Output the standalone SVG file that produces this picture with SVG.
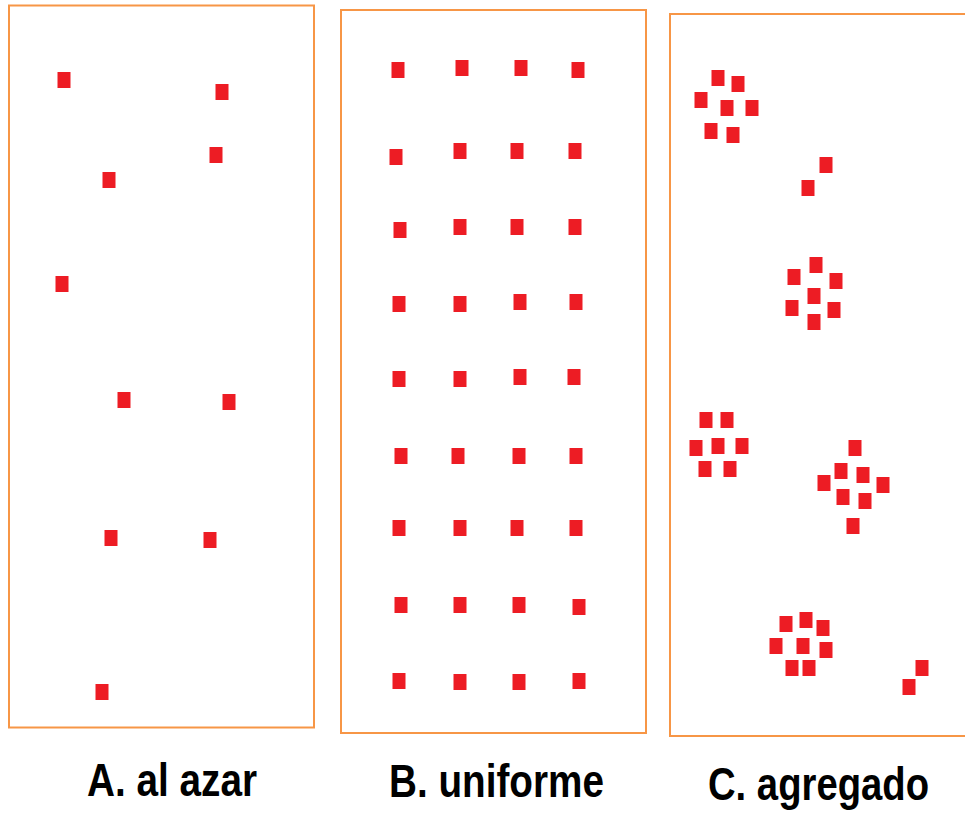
<svg xmlns="http://www.w3.org/2000/svg" width="965" height="818" viewBox="0 0 965 818">
<defs>
<style>
.panel{fill:#fff;stroke:#F79646;stroke-width:2}
.sq{fill:#ED1C24}
.lbl{font-family:"Liberation Sans",Arial,sans-serif;font-weight:bold;font-size:46px;fill:#000}
</style>
<rect id="s" class="sq" x="-6.5" y="-8" width="13" height="16"/>
</defs>
<rect width="965" height="818" fill="#fff"/>
<g id="panelA">
<rect class="panel" x="9" y="5.5" width="305" height="722"/>
<use href="#s" x="64" y="80"/>
<use href="#s" x="222" y="92"/>
<use href="#s" x="216" y="155"/>
<use href="#s" x="109" y="180"/>
<use href="#s" x="62" y="284"/>
<use href="#s" x="124" y="400"/>
<use href="#s" x="229" y="402"/>
<use href="#s" x="111" y="538"/>
<use href="#s" x="210" y="540"/>
<use href="#s" x="102" y="692"/>
<text class="lbl" x="87" y="796" textLength="170" lengthAdjust="spacingAndGlyphs">A. al azar</text>
</g>
<g id="panelB">
<rect class="panel" x="341" y="10" width="305" height="723"/>
<use href="#s" x="398" y="70"/>
<use href="#s" x="462" y="68"/>
<use href="#s" x="521" y="68"/>
<use href="#s" x="578" y="70"/>
<use href="#s" x="396" y="157"/>
<use href="#s" x="460" y="151"/>
<use href="#s" x="517" y="151"/>
<use href="#s" x="575" y="151"/>
<use href="#s" x="400" y="230"/>
<use href="#s" x="460" y="227"/>
<use href="#s" x="517" y="227"/>
<use href="#s" x="575" y="227"/>
<use href="#s" x="399" y="304"/>
<use href="#s" x="460" y="304"/>
<use href="#s" x="520" y="302"/>
<use href="#s" x="576" y="302"/>
<use href="#s" x="399" y="379"/>
<use href="#s" x="460" y="379"/>
<use href="#s" x="520" y="377"/>
<use href="#s" x="574" y="377"/>
<use href="#s" x="401" y="456"/>
<use href="#s" x="458" y="456"/>
<use href="#s" x="519" y="456"/>
<use href="#s" x="576" y="456"/>
<use href="#s" x="399" y="528"/>
<use href="#s" x="460" y="528"/>
<use href="#s" x="517" y="528"/>
<use href="#s" x="576" y="528"/>
<use href="#s" x="401" y="605"/>
<use href="#s" x="460" y="605"/>
<use href="#s" x="519" y="605"/>
<use href="#s" x="579" y="607"/>
<use href="#s" x="399" y="681"/>
<use href="#s" x="460" y="682"/>
<use href="#s" x="519" y="682"/>
<use href="#s" x="579" y="681"/>
<text class="lbl" x="389" y="797" textLength="215" lengthAdjust="spacingAndGlyphs">B. uniforme</text>
</g>
<g id="panelC">
<rect class="panel" x="670" y="14" width="296" height="722"/>
<use href="#s" x="718" y="78"/>
<use href="#s" x="738" y="84"/>
<use href="#s" x="701" y="100"/>
<use href="#s" x="727" y="108"/>
<use href="#s" x="752" y="108"/>
<use href="#s" x="711" y="131"/>
<use href="#s" x="733" y="135"/>
<use href="#s" x="826" y="165"/>
<use href="#s" x="808" y="188"/>
<use href="#s" x="816" y="265"/>
<use href="#s" x="794" y="277"/>
<use href="#s" x="836" y="281"/>
<use href="#s" x="814" y="296"/>
<use href="#s" x="792" y="308"/>
<use href="#s" x="834" y="310"/>
<use href="#s" x="814" y="322"/>
<use href="#s" x="706" y="420"/>
<use href="#s" x="727" y="420"/>
<use href="#s" x="696" y="448"/>
<use href="#s" x="718" y="446"/>
<use href="#s" x="742" y="446"/>
<use href="#s" x="705" y="469"/>
<use href="#s" x="730" y="469"/>
<use href="#s" x="855" y="448"/>
<use href="#s" x="841" y="471"/>
<use href="#s" x="863" y="475"/>
<use href="#s" x="824" y="483"/>
<use href="#s" x="883" y="485"/>
<use href="#s" x="843" y="497"/>
<use href="#s" x="865" y="501"/>
<use href="#s" x="853" y="526"/>
<use href="#s" x="786" y="624"/>
<use href="#s" x="806" y="620"/>
<use href="#s" x="823" y="628"/>
<use href="#s" x="776" y="646"/>
<use href="#s" x="803" y="646"/>
<use href="#s" x="826" y="650"/>
<use href="#s" x="792" y="668"/>
<use href="#s" x="809" y="668"/>
<use href="#s" x="922" y="668"/>
<use href="#s" x="909" y="687"/>
<text class="lbl" x="708" y="800" font-size="44" textLength="221" lengthAdjust="spacingAndGlyphs">C. agregado</text>
</g>
</svg>
